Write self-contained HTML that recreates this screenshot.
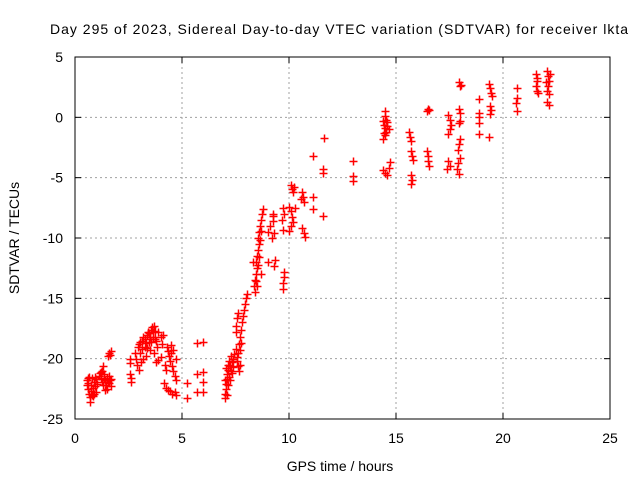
<!DOCTYPE html>
<html><head><meta charset="utf-8"><style>
body{margin:0;background:#fff}
svg{display:block;font-family:"Liberation Sans",sans-serif}
</style></head><body>
<svg id="chart" width="640" height="480">
<rect width="640" height="480" fill="#fff"/>
<g id="grid"></g>
<g id="ticks"></g>
<g id="marks"></g>
<rect x="75" y="57" width="535" height="362" fill="none" stroke="#000" stroke-width="1"/>
<text x="339" y="34" text-anchor="middle" font-size="14" textLength="578">Day 295 of 2023, Sidereal Day-to-day VTEC variation (SDTVAR) for receiver lkta</text>
<text x="340" y="471" text-anchor="middle" font-size="14">GPS time / hours</text>
<text x="0" y="0" transform="translate(19,238) rotate(-90)" text-anchor="middle" font-size="14">SDTVAR / TECUs</text>
</svg>
<script>
const xTicks = [0, 5, 10, 15, 20, 25];
const yTicks = [5, 0, -5, -10, -15, -20, -25];
const samples = [
[0.55,-21.8],[0.55,-22.2],[0.6,-22.5],[0.6,-21.6],[0.65,-22.9],[0.7,-23.2],[0.75,-22.7],[0.7,-23.6],[0.8,-23.0],[0.85,-22.4],[0.9,-21.9],[0.95,-21.5],[1.0,-21.7],[1.05,-22.1],[1.0,-22.8],[0.9,-22.9],
[0.6,-22.0],[0.65,-21.5],[0.75,-22.2],[0.8,-21.6],[0.85,-23.1],[0.95,-22.3],
[1.1,-21.4],[1.15,-21.2],[1.2,-21.6],[1.25,-21.0],[1.3,-20.6],[1.35,-21.3],[1.4,-21.8],[1.45,-22.2],[1.5,-22.5],[1.55,-21.9],[1.6,-21.4],[1.65,-21.8],[1.7,-22.3],[1.4,-22.6],[1.3,-22.2],
[1.2,-21.1],[1.35,-21.7],[1.5,-21.6],[1.6,-22.0],[1.7,-21.7],[1.25,-21.9],
[1.6,-19.5],[1.65,-19.7],[1.7,-19.4],[1.55,-19.8],
[2.55,-20.0],[2.55,-21.3],[2.6,-21.6],[2.6,-21.9],[2.55,-20.4],
[2.8,-19.5],[2.85,-20.0],[2.9,-20.5],[2.95,-19.0],[3.0,-18.8],[3.05,-19.5],[3.1,-20.3],[3.15,-18.5],[3.2,-18.2],[3.25,-19.0],[3.3,-19.8],[3.35,-18.0],[3.4,-17.8],[3.45,-18.6],[3.5,-19.3],[3.55,-17.6],[3.6,-17.4],[3.65,-18.2],[3.7,-17.3],[3.75,-17.7],[3.8,-18.5],[3.85,-19.0],[3.0,-20.9],[3.2,-20.0],
[3.05,-18.6],[3.15,-19.2],[3.25,-18.4],[3.35,-19.1],[3.45,-17.9],[3.55,-18.6],[3.65,-17.8],[3.75,-18.4],[3.3,-18.7],[3.5,-18.2],
[3.9,-17.8],[4.0,-18.2],[4.05,-18.8],[4.1,-18.0],[3.7,-19.5],[3.8,-20.3],[3.9,-20.1],[4.0,-19.9],
[4.3,-19.0],[4.35,-19.4],[4.4,-19.8],[4.45,-20.2],[4.5,-19.5],[4.55,-20.6],[4.6,-21.0],[4.65,-21.4],[4.7,-21.8],[4.5,-18.9],[4.6,-19.3],[4.7,-20.0],[4.2,-20.5],[4.25,-20.9],
[4.15,-22.0],[4.25,-22.4],[4.35,-22.6],[4.45,-22.7],[4.55,-22.9],[4.65,-22.8],[4.7,-23.0],
[5.25,-22.0],[5.25,-23.3],[5.7,-18.7],[6.0,-18.6],[5.7,-21.3],[6.0,-21.1],[6.0,-21.9],[5.7,-22.8],[6.0,-22.8],
[7.0,-23.3],[7.0,-22.9],[7.05,-22.5],[7.05,-22.1],[7.1,-21.7],[7.1,-21.3],[7.15,-20.9],[7.15,-20.5],[7.2,-20.2],[7.0,-21.8],[7.05,-20.8],[7.25,-20.6],[7.3,-21.0],[7.35,-20.3],[7.3,-19.8],[7.1,-23.0],
[7.15,-22.2],[7.2,-21.5],[7.25,-21.8],[7.35,-21.2],[7.4,-20.7],
[7.4,-20.0],[7.45,-19.6],[7.5,-19.2],[7.55,-20.2],[7.6,-19.5],[7.65,-18.8],[7.5,-17.8],[7.5,-17.3],[7.55,-16.6],[7.6,-16.2],[7.7,-18.2],[7.75,-17.6],[7.8,-17.0],[7.85,-16.5],[7.9,-16.0],[7.95,-15.5],[8.0,-15.0],[8.05,-14.6],[7.7,-20.5],[7.65,-21.0],
[7.55,-19.9],[7.6,-20.6],[7.7,-19.3],[7.75,-18.7],
[8.35,-14.0],[8.4,-13.5],[8.45,-13.0],[8.5,-12.5],[8.45,-12.0],[8.5,-11.5],[8.55,-11.0],[8.6,-10.5],[8.55,-10.0],[8.6,-9.5],[8.65,-9.0],[8.7,-8.5],[8.75,-8.0],[8.8,-7.6],[8.4,-14.5],[8.5,-14.0],[8.7,-13.0],[8.3,-12.0],
[8.45,-13.6],[8.55,-12.2],[8.6,-11.6],[8.65,-10.2],[8.7,-9.4],
[9.0,-9.5],[9.1,-9.0],[9.2,-10.0],[9.3,-9.6],[9.0,-12.0],[9.3,-12.3],[9.35,-11.8],[9.25,-8.2],[9.25,-8.6],[9.25,-8.0],
[9.7,-7.5],[9.75,-8.0],[9.65,-8.5],[9.7,-9.3],[9.75,-12.8],[9.75,-13.2],[9.7,-13.7],[9.7,-14.2],
[10.0,-7.4],[10.1,-7.8],[10.15,-8.3],[10.1,-9.0],[10.2,-8.7],[10.0,-9.4],[10.3,-7.5],
[10.1,-5.6],[10.15,-5.9],[10.2,-6.2],[10.25,-5.8],
[10.6,-6.2],[10.65,-6.6],[10.7,-7.0],[10.55,-6.8],[10.6,-9.2],[10.7,-9.6],[10.75,-9.9],
[11.1,-6.6],[11.1,-7.6],[11.6,-8.2],[11.6,-4.3],[11.6,-4.6],[11.65,-1.7],[11.1,-3.2],
[13.0,-3.6],[13.0,-4.9],[13.0,-5.3],
[14.4,-0.3],[14.45,-0.6],[14.5,-0.9],[14.55,-1.2],[14.6,-0.7],[14.65,-1.0],[14.5,-1.5],[14.4,-1.8],[14.5,0.1],[14.5,0.5],
[14.6,-0.4],[14.45,-1.3],[14.55,-0.2],
[14.4,-4.4],[14.5,-4.6],[14.6,-4.8],[14.65,-4.2],[14.7,-3.7],
[15.6,-1.2],[15.65,-1.6],[15.7,-2.0],[15.7,-2.8],[15.75,-3.2],[15.8,-3.5],[15.7,-4.8],[15.75,-5.2],[15.7,-5.5],
[16.45,0.5],[16.5,0.7],[16.55,0.6],[16.45,-2.8],[16.5,-3.2],[16.5,-3.6],[16.55,-4.0],
[17.45,0.2],[17.5,-0.2],[17.55,-0.6],[17.5,-1.0],[17.45,-1.4],[17.45,-3.6],[17.5,-4.0],[17.4,-4.3],
[17.95,0.7],[18.0,0.4],[18.0,-0.3],[17.95,-0.5],[17.95,2.9],[18.0,2.6],[18.05,2.7],
[18.0,-1.8],[17.95,-2.2],[17.9,-2.7],[17.9,-3.8],[17.85,-4.3],[17.95,-4.7],[18.0,-3.4],
[18.9,1.5],[18.9,0.4],[18.9,0.0],[18.9,-0.5],[18.9,-1.4],[19.35,-1.6],
[19.35,2.8],[19.4,2.4],[19.45,2.0],[19.5,1.8],[19.4,0.9],[19.45,0.6],[19.4,0.3],
[20.65,2.4],[20.65,1.6],[20.6,1.2],[20.65,0.5],
[21.55,3.6],[21.6,3.3],[21.55,2.6],[21.6,2.2],[21.65,2.0],[21.6,3.0],
[22.05,3.8],[22.1,3.4],[22.15,3.0],[22.1,2.6],[22.05,2.2],[22.15,1.9],[22.05,1.3],[22.15,1.0],[22.2,3.6],[22.0,2.9]
];
const X0=75,X1=610,Y0=57,Y1=419;
function sx(v){return X0+(v-0)/(25-0)*(X1-X0);}
function sy(v){return Y0+(5-v)/(5-(-25))*(Y1-Y0);}
const NS='http://www.w3.org/2000/svg';
const grid=document.getElementById('grid'),ticks=document.getElementById('ticks'),marks=document.getElementById('marks');
function mk(tag,attrs,parent){const e=document.createElementNS(NS,tag);for(const k in attrs)e.setAttribute(k,attrs[k]);parent.appendChild(e);return e;}
xTicks.forEach(t=>{
  const x=sx(t);
  if(t>0&&t<25){const g=mk('line',{x1:x,x2:x,y1:Y0,y2:Y1,stroke:'#a0a0a0','stroke-dasharray':'2,3'},grid);
    
    }
  mk('line',{x1:x,x2:x,y1:Y1,y2:Y1-6,stroke:'#000'},ticks);
  mk('line',{x1:x,x2:x,y1:Y0,y2:Y0+6,stroke:'#000'},ticks);
  const l=mk('text',{x:x,y:443,'text-anchor':'middle','font-size':'14'},ticks);l.textContent=t;
  
  
});
yTicks.forEach(t=>{
  const y=sy(t);
  if(t<5&&t>-25){const g=mk('line',{x1:X0,x2:X1,y1:y,y2:y,stroke:'#a0a0a0','stroke-dasharray':'2,3'},grid);
    
    }
  mk('line',{x1:X0,x2:X0+6,y1:y,y2:y,stroke:'#000'},ticks);
  mk('line',{x1:X1,x2:X1-6,y1:y,y2:y,stroke:'#000'},ticks);
  const l=mk('text',{x:63,y:y+5,'text-anchor':'end','font-size':'14'},ticks);l.textContent=t;
  
  
});
samples.forEach(p=>{
  const x=Math.round(sx(p[0]))+0.5,y=Math.round(sy(p[1]))+0.5;
  const m=mk('path',{d:`M${x-4} ${y}H${x+4}M${x} ${y-4}V${y+4}`,stroke:'#ff0000','stroke-width':'1.5',fill:'none'},marks);
  
  
});
</script>
</body></html>
